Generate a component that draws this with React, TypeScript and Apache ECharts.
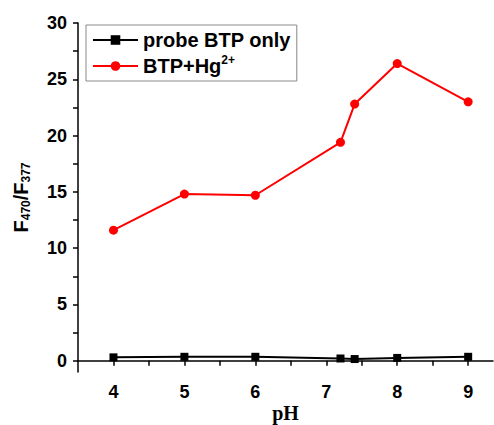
import React, { useEffect, useRef } from "react";
import * as echarts from "echarts";

const pH = [4, 5, 6, 7.2, 7.4, 8, 9];
const probeOnly = [0.3, 0.35, 0.35, 0.2, 0.15, 0.25, 0.35];
const withHg = [11.6, 14.8, 14.7, 19.4, 22.8, 26.4, 23.0];
const xTicks = [4, 4.5, 5, 5.5, 6, 6.5, 7, 7.5, 8, 8.5, 9];
const xLabels = [4, 5, 6, 7, 8, 9];
const yTicks = [0, 2.5, 5, 7.5, 10, 12.5, 15, 17.5, 20, 22.5, 25, 27.5, 30];
const yLabels = [0, 5, 10, 15, 20, 25, 30];
const seriesNames = ["probe BTP only", "BTP+Hg2+"];

export default function App() {
  const ref = useRef<HTMLDivElement>(null);
  useEffect(() => {
    const chart = echarts.init(ref.current!, null, { renderer: "svg" });
    const arial = "Arial, 'Liberation Sans', sans-serif";
    const axisFont = { fontFamily: arial, fontWeight: "bold" as const, fontSize: 18, color: "#000" };
    chart.setOption({
      animation: false,
      backgroundColor: "#fff",
      grid: { left: 78, top: 23, width: 415, height: 349, containLabel: false, outerBoundsMode: "none" },
      legend: {
        orient: "vertical",
        left: 86,
        top: 25,
        padding: [5, 6, 5, 6],
        itemGap: 4,
        itemWidth: 45,
        itemHeight: 12,
        borderColor: "#888",
        borderWidth: 1,
        data: seriesNames,
        formatter: (name: string) =>
          name === "BTP+Hg2+" ? "{n|BTP+Hg}{sup|2+}" : "{n|" + name + "}",
        textStyle: {
          rich: {
            n: { fontFamily: arial, fontWeight: "bold", fontSize: 20, color: "#000", lineHeight: 24 },
            sup: { fontFamily: arial, fontWeight: "bold", fontSize: 12, color: "#000", verticalAlign: "top", padding: [0, 0, 11, 0] },
          },
        },
      },
      xAxis: {
        type: "value",
        min: 3.5,
        max: 9.35,
        name: "pH",
        nameLocation: "middle",
        nameGap: 30,
        nameMoveOverlap: false,
        nameTextStyle: { fontFamily: "'Liberation Serif', 'Times New Roman', serif", fontWeight: "bold", fontSize: 20, lineHeight: 22, color: "#000" },
        axisLine: { lineStyle: { color: "#000", width: 1.5 } },
        axisTick: { show: true, customValues: xTicks, length: 5, inside: false, lineStyle: { color: "#000", width: 1.5 } },
        axisLabel: { ...axisFont, margin: 11, customValues: xLabels },
        splitLine: { show: false },
      },
      yAxis: {
        type: "value",
        min: -1,
        max: 30,
        name: "{f|F}{s|470}{f|/F}{s|377}",
        nameLocation: "middle",
        nameGap: 46,
        nameMoveOverlap: false,
        nameRotate: 90,
        nameTextStyle: {
          rich: {
            f: { fontFamily: arial, fontWeight: "bold", fontSize: 20, color: "#000" },
            s: { fontFamily: arial, fontWeight: "bold", fontSize: 12, color: "#000", verticalAlign: "bottom", padding: [10, 0, 0, 0] },
          },
        },
        axisLine: { show: true, lineStyle: { color: "#000", width: 1.5 } },
        axisTick: { show: true, customValues: yTicks, length: 5, inside: false, lineStyle: { color: "#000", width: 1.5 } },
        axisLabel: { ...axisFont, margin: 11, customValues: yLabels },
        splitLine: { show: false },
      },
      series: [
        {
          name: seriesNames[0],
          type: "line",
          data: pH.map((x, i) => [x, probeOnly[i]]),
          symbol: "rect",
          symbolSize: 8,
          lineStyle: { color: "#000", width: 2 },
          itemStyle: { color: "#000" },
        },
        {
          name: seriesNames[1],
          type: "line",
          data: pH.map((x, i) => [x, withHg[i]]),
          symbol: "circle",
          symbolSize: 9,
          lineStyle: { color: "#ff0000", width: 2 },
          itemStyle: { color: "#ff0000" },
        },
      ],
    });
    return () => chart.dispose();
  }, []);
  return <div ref={ref} style={{ position: "absolute", left: 0, top: 0, width: 494, height: 425 }} />;
}
